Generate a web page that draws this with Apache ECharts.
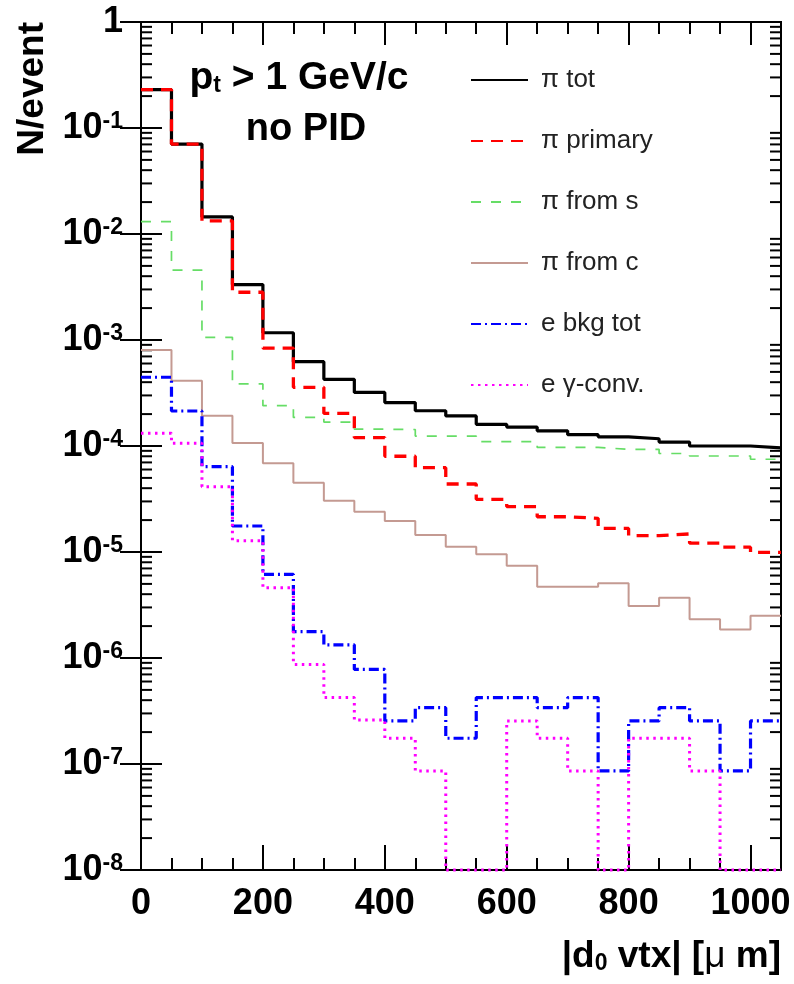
<!DOCTYPE html>
<html><head><meta charset="utf-8">
<script src="https://cdn.jsdelivr.net/npm/echarts@6/dist/echarts.min.js"></script>
<style>html,body{margin:0;padding:0;background:#fff}#c{width:794px;height:984px}</style>
</head><body><div id="c"></div>
<script>
// bins of |d0 vtx| (um), lower edges, width 50
const binLow = [0,50,100,150,200,250,300,350,400,450,500,550,600,650,700,750,800,850,900,950,1000];
const binWidth = 50;
const seriesNames = ['\u03c0 tot','\u03c0 primary','\u03c0 from s','\u03c0 from c','e bkg tot','e \u03b3-conv.'];
const piTot = [0.23,0.0706,0.0145,0.00333,0.00117,6.24e-4,4.26e-4,3.2e-4,2.57e-4,2.15e-4,1.92e-4,1.6e-4,1.51e-4,1.39e-4,1.28e-4,1.22e-4,1.17e-4,1.09e-4,1.0e-4,1.0e-4,9.6e-5];
const piPrimary = [0.23,0.0706,0.0133,0.00282,8.4e-4,3.58e-4,2.03e-4,1.2e-4,8.0e-5,6.24e-5,4.38e-5,3.14e-5,2.68e-5,2.15e-5,2.08e-5,1.67e-5,1.43e-5,1.48e-5,1.21e-5,1.11e-5,9.9e-6];
const piFromS = [0.0131,0.00457,1.06e-3,3.85e-4,2.4e-4,1.86e-4,1.68e-4,1.44e-4,1.43e-4,1.24e-4,1.24e-4,1.10e-4,1.10e-4,9.7e-5,9.7e-5,9.3e-5,9.3e-5,8.5e-5,8.05e-5,8.05e-5,7.5e-5];
const piFromC = [8.05e-4,4.13e-4,1.93e-4,1.07e-4,6.86e-5,4.51e-5,3.05e-5,2.40e-5,1.96e-5,1.45e-5,1.12e-5,9.5e-6,7.43e-6,4.71e-6,4.71e-6,5.06e-6,3.1e-6,3.7e-6,2.32e-6,1.86e-6,2.51e-6];
const eBkgTot = [4.45e-4,2.14e-4,6.38e-5,1.76e-5,6.16e-6,1.77e-6,1.33e-6,7.8e-7,2.55e-7,3.4e-7,1.75e-7,4.23e-7,4.23e-7,3.4e-7,4.23e-7,8.6e-8,2.55e-7,3.4e-7,2.55e-7,8.6e-8,2.55e-7];
const eGammaConv = [1.32e-4,1.06e-4,4.13e-5,1.28e-5,4.6e-6,8.7e-7,4.23e-7,2.6e-7,1.75e-7,8.6e-8,0,0,2.55e-7,1.75e-7,8.6e-8,0,1.75e-7,1.75e-7,8.6e-8,0,0];
const xMin = 0, xMax = 1050;
const yMin = 1e-8, yMax = 1;

const FF = '"Liberation Sans", Arial, Helvetica, sans-serif';

function steps(vals){
  const pts = [];
  vals.forEach((v,i)=>{
    const y = v > 0 ? v : yMin;
    pts.push([binLow[i], y], [binLow[i] + binWidth, y]);
  });
  return pts;
}
// minor log tick values (2..9 x 10^k)
const minorVals = [];
for (let k = -8; k < 0; k++) for (let m = 2; m <= 9; m++) minorVals.push([0, m * Math.pow(10, k)]);

const styles = [
  {color:'#000000', width:3.2, type:'solid'},
  {color:'#ff0000', width:3.3, type:[12,8]},
  {color:'#66dd66', width:1.7, type:[10,10]},
  {color:'#c49a92', width:2, type:'solid'},
  {color:'#0000ff', width:3.2, type:[10,4,2,4]},
  {color:'#ff00ff', width:3, type:[2.5,4.5]}
];
const allData = [piTot, piPrimary, piFromS, piFromC, eBkgTot, eGammaConv];

const chart = echarts.init(document.getElementById('c'), null, {renderer:'canvas'});
const lineSeries = allData.map((d,i)=>({
  name: seriesNames[i], type:'line', xAxisIndex:0, yAxisIndex:0,
  data: steps(d), showSymbol:false, symbol:'none', clip:false,
  lineStyle: {color:styles[i].color, width:styles[i].width, type:styles[i].type},
  itemStyle: {color:styles[i].color},
  animation:false, z: 3 + i
}));

const xCommon = {type:'value', min:xMin, max:xMax, splitLine:{show:false}, axisLine:{show:false}};
const yCommon = {type:'log', logBase:10, min:yMin, max:yMax, splitNumber:8, splitLine:{show:false}, axisLine:{show:false}};

chart.setOption({
  animation:false,
  backgroundColor:'#fff',
  grid:{left:141, right:13, top:22, bottom:114, show:true, borderColor:'#000', borderWidth:2, backgroundColor:'transparent'},
  xAxis:[
    Object.assign({}, xCommon, {position:'bottom', interval:200,
      axisTick:{inside:true, length:25, lineStyle:{color:'#000', width:2}},
      axisLabel:{margin:16, showMaxLabel:false, color:'#000', fontSize:36, fontWeight:'bold', fontFamily:FF,
        formatter:(v)=> (v % 200 === 0 ? String(v) : '')}}),
    Object.assign({}, xCommon, {position:'bottom', interval:50,
      axisTick:{inside:true, length:12, lineStyle:{color:'#000', width:2}}, axisLabel:{show:false}}),
    Object.assign({}, xCommon, {position:'top', interval:200,
      axisTick:{inside:true, length:23, lineStyle:{color:'#000', width:2}}, axisLabel:{show:false}}),
    Object.assign({}, xCommon, {position:'top', interval:50,
      axisTick:{inside:true, length:12, lineStyle:{color:'#000', width:2}}, axisLabel:{show:false}})
  ],
  yAxis:[
    Object.assign({}, yCommon, {position:'left',
      axisTick:{inside:true, length:21, lineStyle:{color:'#000', width:2}},
      axisLabel:{margin:18, color:'#000', fontFamily:FF,
        formatter:(v)=>{ const e = Math.round(Math.log10(v)); return e === 0 ? '{b|1}' : '{b|10}{s|' + e + '}'; },
        rich:{
          b:{fontSize:36, fontWeight:'bold', fontFamily:FF, lineHeight:36, color:'#000'},
          s:{fontSize:23, fontWeight:'bold', fontFamily:FF, lineHeight:12, verticalAlign:'top', color:'#000'}
        }}}),
    Object.assign({}, yCommon, {position:'right',
      axisTick:{inside:true, length:21, lineStyle:{color:'#000', width:2}}, axisLabel:{show:false}})
  ],
  legend:{
    data: seriesNames, orient:'vertical', left:465, top:62, itemWidth:57, itemHeight:14, itemGap:35,
    itemStyle:{opacity:0},
    textStyle:{fontSize:26, fontFamily:FF, color:'#222', lineHeight:26, padding:[0,0,0,8]},
    selectedMode:false
  },
  graphic:[
    {type:'text', x:33, y:22, rotation:Math.PI/2,
      style:{text:'N/event', fontSize:37, fontWeight:'bold', fontFamily:FF, fill:'#000', align:'right', verticalAlign:'middle'}},
    {type:'text', x:299, y:78,
      style:{text:'{a|p}{sub|t}{a| > 1 GeV/c}', align:'center', verticalAlign:'middle',
        rich:{a:{fontSize:39, fontWeight:'bold', fontFamily:FF, fill:'#000', lineHeight:39},
              sub:{fontSize:23, fontWeight:'bold', fontFamily:FF, fill:'#000', lineHeight:6, verticalAlign:'bottom'}}}},
    {type:'text', x:306, y:130,
      style:{text:'no PID', fontSize:38, fontWeight:'bold', fontFamily:FF, fill:'#000', align:'center', verticalAlign:'middle'}},
    {type:'text', x:781, y:957,
      style:{text:'{a|\u007cd}{sub|0}{a| vtx\u007c [}{mu|\u03bc}{a| m]}', align:'right', verticalAlign:'middle',
        rich:{a:{fontSize:37, fontWeight:'bold', fontFamily:FF, fill:'#000', lineHeight:37},
              mu:{fontSize:37, fontWeight:'normal', fontFamily:FF, fill:'#000', lineHeight:37},
              sub:{fontSize:23, fontWeight:'bold', fontFamily:FF, fill:'#000', lineHeight:6, verticalAlign:'bottom'}}}}
  ],
  series: lineSeries.concat([{
    type:'custom', xAxisIndex:0, yAxisIndex:0, data:minorVals, silent:true, clip:false, z:2,
    encode:{x:0, y:1},
    renderItem:(params, api)=>{
      const p = api.coord([0, api.value(1)]);
      const cs = params.coordSys;
      return {type:'group', children:[
        {type:'line', shape:{x1:cs.x, y1:p[1], x2:cs.x + 11, y2:p[1]}, style:{stroke:'#000', lineWidth:2}},
        {type:'line', shape:{x1:cs.x + cs.width, y1:p[1], x2:cs.x + cs.width - 11, y2:p[1]}, style:{stroke:'#000', lineWidth:2}}
      ]};
    }
  }])
});
</script></body></html>
